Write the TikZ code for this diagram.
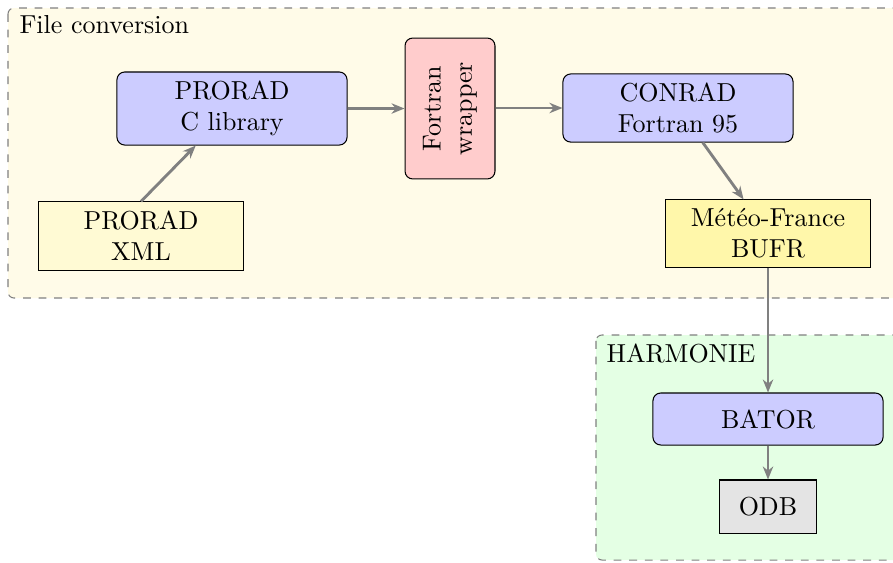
\documentclass[tikz,border=0pt]{standalone}
\usetikzlibrary{arrows.meta}
\definecolor{convbg}{RGB}{255,251,232}
\definecolor{harmbg}{RGB}{228,255,228}
\definecolor{libblue}{RGB}{204,204,255}
\definecolor{wrapred}{RGB}{255,204,204}
\definecolor{xmlyel}{RGB}{255,250,212}
\definecolor{bufryel}{RGB}{255,247,170}
\definecolor{odbgray}{RGB}{228,228,228}
\tikzset{
  container/.style={draw=gray, dashed, rounded corners=2.3pt},
  libbox/.style={draw, fill=libblue, rounded corners=3pt, align=center, inner sep=0pt},
  filebox/.style={draw, align=center, inner sep=0pt},
  flow/.style={draw=gray, line width=1.1pt, -{Stealth[length=5pt,width=4pt]}},
  title/.style={anchor=base west, inner sep=0pt}
}
\begin{document}
\begin{tikzpicture}[x=0.3846pt,y=-0.3846pt]
\useasboundingbox (0,0) rectangle (893,562);
\begin{scope}
\clip (0,0) rectangle (893,562);
\draw[container, fill=convbg] (8,8) rectangle (920,298);
\draw[container, fill=harmbg] (596,335) rectangle (920,560);
\end{scope}
\node[title] (tconv) at (19,33) {File conversion};
\node[title] (tharm) at (606,362) {HARMONIE};
\node[libbox, minimum width=88.5pt, minimum height=28.1pt] (clib) at (232,108.5) {PRORAD\\C library};
\node[filebox, fill=xmlyel, minimum width=78.5pt, minimum height=26.2pt] (xml) at (141,236) {PRORAD\\XML};
\node[libbox, fill=wrapred, rotate=90, minimum width=54.2pt, minimum height=34.6pt] (wrap) at (450,108.5) {Fortran\\wrapper};
\node[libbox, minimum width=88.5pt, minimum height=26.2pt] (conrad) at (678,108) {CONRAD\\Fortran 95};
\node[filebox, fill=bufryel, minimum width=78.5pt, minimum height=25.8pt] (bufr) at (768,233.5) {Météo-France\\BUFR};
\node[libbox, minimum width=88.5pt, minimum height=20pt] (bator) at (768,419) {BATOR};
\node[filebox, fill=odbgray, minimum width=37.3pt, minimum height=20.4pt] (odb) at (768,506.5) {ODB};
\draw[flow] (xml.north) -- (clib);
\draw[flow] (clib.east) -- (clib.east -| wrap.north);
\draw[flow] (wrap.south |- conrad.west) -- (conrad.west);
\draw[flow] (conrad) -- (bufr);
\draw[flow] (bufr.south) -- (bator.north);
\draw[flow] (bator.south) -- (odb.north);
\end{tikzpicture}
\end{document}
